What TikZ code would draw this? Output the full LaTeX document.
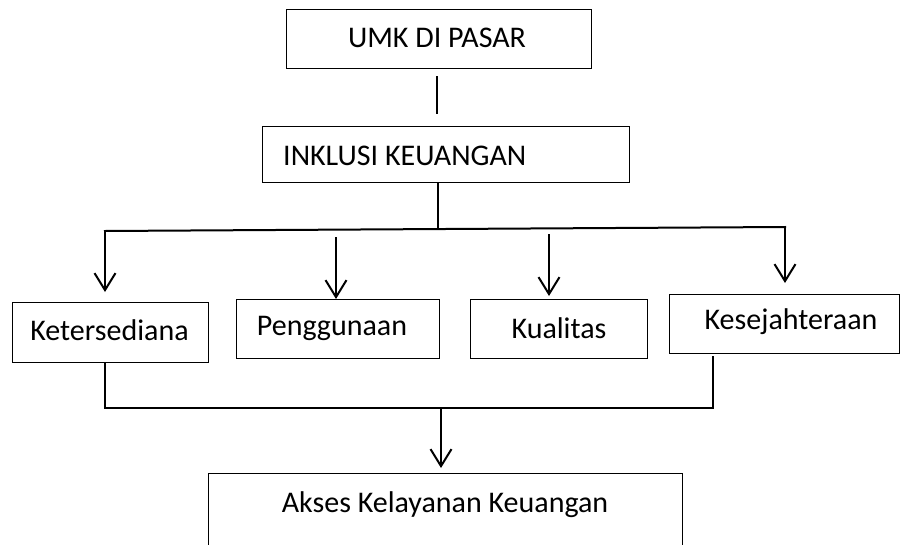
\documentclass[tikz,border=0pt]{standalone}
\usepackage{fontspec}
\setmainfont{Carlito}
\usetikzlibrary{arrows.meta,calc}
\tikzset{
  box/.style={draw, line width=1.1pt, inner sep=0pt, anchor=north west},
  lbl/.style={inner sep=0pt, anchor=base, font=\fontsize{30}{36}\selectfont},
  conn/.style={line width=2pt},
  arr/.style={conn, -{Straight Barb[length=17pt,width=21pt]}}
}
\begin{document}
\begin{tikzpicture}[x=1pt,y=-1pt]
\useasboundingbox (0,0) rectangle (900,544);
\clip (0,0) rectangle (900,544);
% boxes
\node[box, minimum width=305pt, minimum height=59pt] (umk) at (286,9) {};
\node[lbl] (umkt) at (437,47.5) {UMK DI PASAR};
\node[box, minimum width=367pt, minimum height=56pt] (inkl) at (262,126) {};
\node[lbl, anchor=base west] (inklt) at (283,165) {INKLUSI KEUANGAN};
\node[box, minimum width=196pt, minimum height=60pt] (ket) at (12,302) {};
\node[lbl] (kett) at (109.5,340.5) {Ketersediana};
\node[box, minimum width=203pt, minimum height=59pt] (pen) at (236,299) {};
\node[lbl] (pent) at (332,335.5) {Penggunaan};
\node[box, minimum width=177pt, minimum height=59pt] (kua) at (470,299) {};
\node[lbl] (kuat) at (559,338.5) {Kualitas};
\node[box, minimum width=230pt, minimum height=59pt] (kes) at (669,294) {};
\node[lbl] (kest) at (791,329.5) {Kesejahteraan};
\node[box, minimum width=474pt, minimum height=100pt] (akses) at (208,473) {};
\node[lbl] (aksest) at (445,512.5) {Akses Kelayanan Keuangan};
% connector coordinates
\coordinate (u1) at (437,76);
\coordinate (u2) at (437,114);
\coordinate (i1) at (438,183);
\coordinate (i2) at (438,230);
\coordinate (hl) at (105,231);
\coordinate (hr) at (785,227);
\coordinate (tket) at (105,292);
\coordinate (tkes) at (785,283);
\coordinate (p1) at (336,237);
\coordinate (q1) at (549,234);
\coordinate (q2) at (549,296);
\coordinate (bl) at (105,408);
\coordinate (br) at (713,408);
\coordinate (bk) at (713,357);
\coordinate (a1) at (441,408);
\coordinate (a2) at (441,468);
% connectors
\draw[conn] (u1) -- (u2);
\draw[conn] (i1) -- (i2);
\draw[conn, line cap=rect] (hl) -- (hr);
\draw[arr] (hl) -- (tket);
\draw[arr] (hr) -- (tkes);
\draw[arr] (p1) -- (p1 |- pen.north);
\draw[arr] (q1) -- (q2);
\draw[conn, line cap=rect] (ket.south -| hl) -- (bl) -- (br) -- (bk);
\draw[arr] (a1) -- (a2);
\end{tikzpicture}
\end{document}
